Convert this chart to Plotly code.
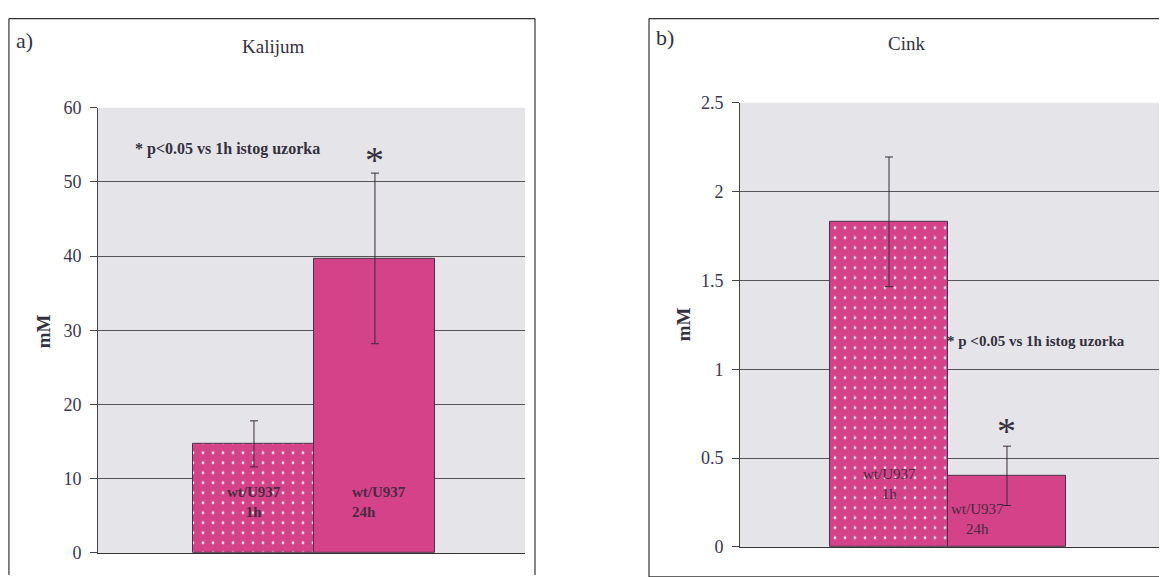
import plotly.graph_objects as go

W, H = 1167, 577

# ---------------- data ----------------
categories = ["wt/U937 1h", "wt/U937 24h"]
bar_labels = ["wt/U937<br>1h", "wt/U937<br>24h"]

kalijum_mean = [14.7, 39.7]
kalijum_err = [3.1, 11.5]

cink_mean = [1.83, 0.40]
cink_err = [0.365, 0.167]

note_a = "* p<0.05 vs 1h istog uzorka"
note_b = "* p <0.05 vs 1h istog uzorka"

BAR = "#d4428a"
TXT = "#35303f"
LBL = "#4a2a40"
FONT = "Liberation Serif"

# empirical screen mapping compensation
OX, OY, SY = 8.0, 17.4, 0.963


def px_x(p):
    return (p - OX) / W


def px_y(p):
    return 1 - ((p - OY) / SY) / H


fig = go.Figure()

pattern = dict(shape=[".", ""], fgcolor="rgba(255,255,255,0.85)", bgcolor=BAR,
               size=10, solidity=0.06, fillmode="replace")

fig.add_trace(go.Bar(
    x=categories, y=kalijum_mean, xaxis="x", yaxis="y",
    marker=dict(color=BAR, line=dict(color="#4a3048", width=1), pattern=pattern),
    error_y=dict(type="data", array=kalijum_err, color="#3a2a3a", thickness=1, width=4),
    width=1.0, showlegend=False, hoverinfo="skip",
))
fig.add_trace(go.Bar(
    x=categories, y=cink_mean, xaxis="x2", yaxis="y2",
    marker=dict(color=BAR, line=dict(color="#4a3048", width=1), pattern=pattern),
    error_y=dict(type="data", array=cink_err, color="#3a2a3a", thickness=1, width=4),
    width=1.0, showlegend=False, hoverinfo="skip",
))

axis_common = dict(showgrid=False, zeroline=False, showline=True, linecolor="#333",
                   linewidth=1, showticklabels=False, ticks="", fixedrange=True,
                   type="category")
yaxis_common = dict(showgrid=True, gridcolor="#555", gridwidth=1, zeroline=False,
                    showline=True, linecolor="#444", linewidth=1, ticks="outside",
                    ticklen=7, tickcolor="#444", fixedrange=True, ticklabelstandoff=5,
                    tickfont=dict(family=FONT, size=18, color="#3a3550"))

fig.update_layout(
    width=W, height=H,
    margin=dict(l=0, r=0, t=0, b=0),
    paper_bgcolor="white",
    plot_bgcolor="#e5e5e9",
    bargap=0,
    xaxis=dict(domain=[px_x(98), px_x(525)], range=[-1.289, 2.240], anchor="y", **axis_common),
    yaxis=dict(domain=[px_y(551), px_y(107)], range=[0, 60], dtick=10, anchor="x", **yaxis_common),
    xaxis2=dict(domain=[px_x(740), 1.0], range=[-1.263, 2.424], anchor="y2", **axis_common),
    yaxis2=dict(domain=[px_y(545), px_y(102)], range=[0, 2.5], dtick=0.5, anchor="x2", **yaxis_common),
)


def pann(text, x, y, size, angle=0):
    return dict(text=text, x=px_x(x), y=px_y(y), xref="paper", yref="paper", showarrow=False,
                xanchor="center", yanchor="middle", textangle=angle,
                font=dict(family=FONT, size=size, color=TXT))


ann = [
    pann("a)", 24, 40, 22),
    pann("b)", 665, 37, 22),
    pann("Kalijum", 273, 46, 19),
    pann("Cink", 906, 43, 19),
    pann("<b>mM</b>", 43, 330, 19, -90),
    pann("<b>mM</b>", 683, 323, 19, -90),
]

# panel a data annotations
ann.append(dict(text="<b>" + note_a + "</b>", x=-1.0, y=54.5, xref="x", yref="y", xanchor="left",
                yanchor="middle", showarrow=False, font=dict(family=FONT, size=16, color=TXT)))
ann.append(dict(text="*", x=1, y=53.0, xref="x", yref="y", showarrow=False, yanchor="middle",
                font=dict(family=FONT, size=38, color=TXT)))
ann.append(dict(text="<b>" + bar_labels[0] + "</b>", x=0, y=6.9, xref="x", yref="y", showarrow=False,
                yanchor="middle", font=dict(family=FONT, size=15, color=LBL)))
ann.append(dict(text="<b>" + bar_labels[1] + "</b>", x=0.79, y=6.9, xref="x", yref="y", showarrow=False,
                xanchor="left", yanchor="middle", align="left", font=dict(family=FONT, size=15, color=LBL)))

# panel b data annotations
ann.append(dict(text="<b>" + note_b + "</b>", x=0.475, y=1.157, xref="x2", yref="y2", xanchor="left",
                yanchor="middle", showarrow=False, font=dict(family=FONT, size=15, color=TXT)))
ann.append(dict(text="*", x=1, y=0.65, xref="x2", yref="y2", showarrow=False, yanchor="middle",
                font=dict(family=FONT, size=38, color=TXT)))
ann.append(dict(text=bar_labels[0], x=0, y=0.356, xref="x2", yref="y2", showarrow=False,
                yanchor="middle", font=dict(family=FONT, size=15, color=LBL)))
ann.append(dict(text=bar_labels[1], x=0.754, y=0.158, xref="x2", yref="y2", showarrow=False,
                yanchor="middle", font=dict(family=FONT, size=15, color=LBL)))

fig.update_layout(annotations=ann)

# panel frames
frame = dict(color="#333", width=1.2)
ya = min(px_y(14), 0.999)
yb = min(px_y(12), 0.999)
shapes = [
    dict(type="line", xref="paper", yref="paper", x0=0.0008, x1=px_x(535), y0=ya, y1=ya, line=frame),
    dict(type="line", xref="paper", yref="paper", x0=0.0008, x1=0.0008, y0=ya, y1=0, line=frame),
    dict(type="line", xref="paper", yref="paper", x0=px_x(535), x1=px_x(535), y0=ya, y1=0, line=frame),
    dict(type="line", xref="paper", yref="paper", x0=px_x(649), x1=1, y0=yb, y1=yb, line=frame),
    dict(type="line", xref="paper", yref="paper", x0=px_x(649), x1=px_x(649), y0=yb, y1=px_y(575), line=frame),
    dict(type="line", xref="paper", yref="paper", x0=px_x(649), x1=1, y0=px_y(575), y1=px_y(575), line=frame),
]
fig.update_layout(shapes=shapes)

fig.write_html("out.html")
